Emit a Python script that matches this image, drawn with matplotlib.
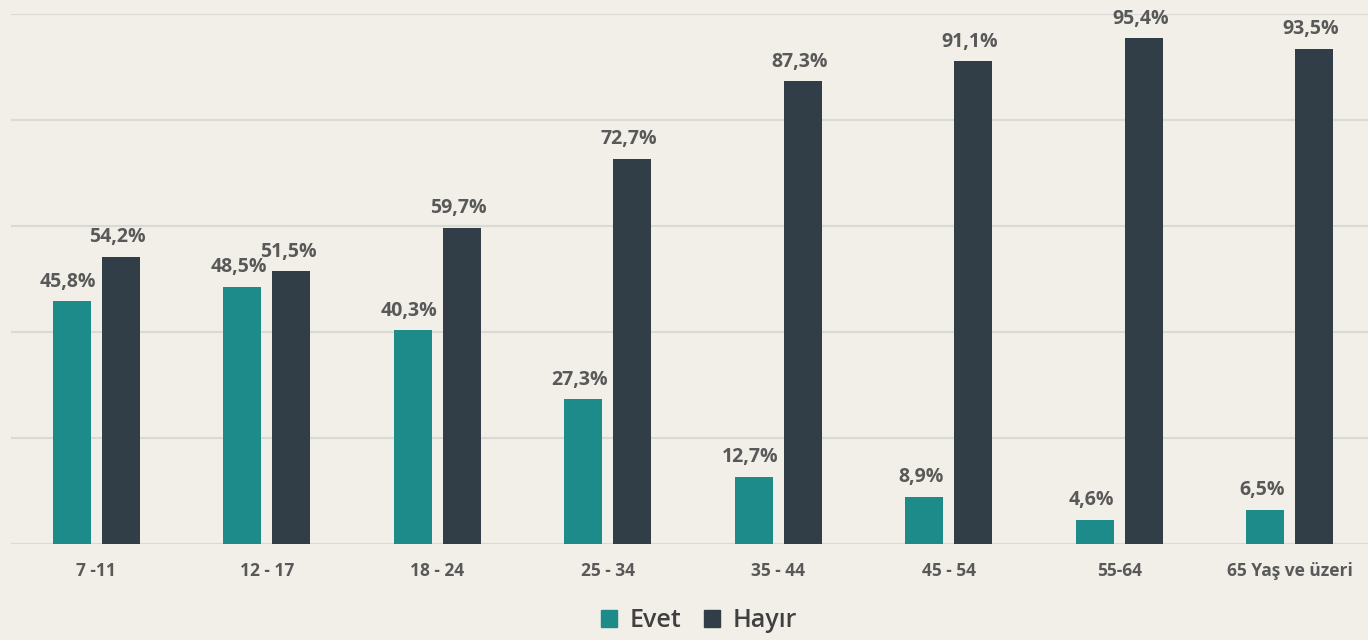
import matplotlib
matplotlib.use("Agg")
import matplotlib.pyplot as plt
from matplotlib.patches import Patch
import numpy as np

# age groups and answer shares (%)
groups = ["7 -11", "12 - 17", "18 - 24", "25 - 34", "35 - 44", "45 - 54", "55-64", "65 Yaş ve üzeri"]
evet = [45.8, 48.5, 40.3, 27.3, 12.7, 8.9, 4.6, 6.5]
hayir = [54.2, 51.5, 59.7, 72.7, 87.3, 91.1, 95.4, 93.5]

c_evet = "#1c8b8a"
c_hayir = "#313e47"
bg = "#f1efe7"
txt = "#595959"

plt.rcParams['font.family'] = ['Open Sans', 'DejaVu Sans']

fig = plt.figure(figsize=(13.68, 6.4), dpi=100, facecolor=bg)
ax = fig.add_axes([11 / 1368, 0.15, 1364 / 1368, 0.828])
ax.set_facecolor(bg)

x = np.arange(len(groups))
w = 0.223
off = 0.144
b1 = ax.bar(x - off, evet, w, color=c_evet, zorder=3)
b2 = ax.bar(x + off, hayir, w, color=c_hayir, zorder=3)

def fmt(v):
    return "{:.1f}%".format(v).replace(".", ",")

for bars, vals in ((b1, evet), (b2, hayir)):
    for r, v in zip(bars, vals):
        ax.text(r.get_x() + r.get_width() / 2 - 0.02, v + 1.8, fmt(v),
                ha="center", va="bottom", fontsize=14, fontweight="bold",
                color=txt, zorder=4)

ax.set_xlim(-0.5, len(groups) - 0.5)
ax.set_ylim(0, 100)
ax.set_yticks([0, 20, 40, 60, 80, 100])
ax.yaxis.grid(True, color="#d9d9d6", linewidth=1.5, zorder=0)
ax.tick_params(axis="y", left=False, labelleft=False)
ax.set_xticks(x)
ax.set_xticklabels(groups, fontsize=12.5, fontweight="bold", color=txt)
ax.tick_params(axis="x", length=0, pad=13)
for s in ax.spines.values():
    s.set_visible(False)

handles = [Patch(color=c_evet, label="Evet"), Patch(color=c_hayir, label="Hayır")]
fig.legend(handles=handles, loc="center", bbox_to_anchor=(0.511, 0.03), ncol=2,
           frameon=False, prop={"size": 18, "weight": "semibold"},
           labelcolor="#404040", handlelength=0.65, handleheight=0.65,
           handletextpad=0.5, columnspacing=0.9)

fig.savefig("out.png", dpi=100, facecolor=bg)
